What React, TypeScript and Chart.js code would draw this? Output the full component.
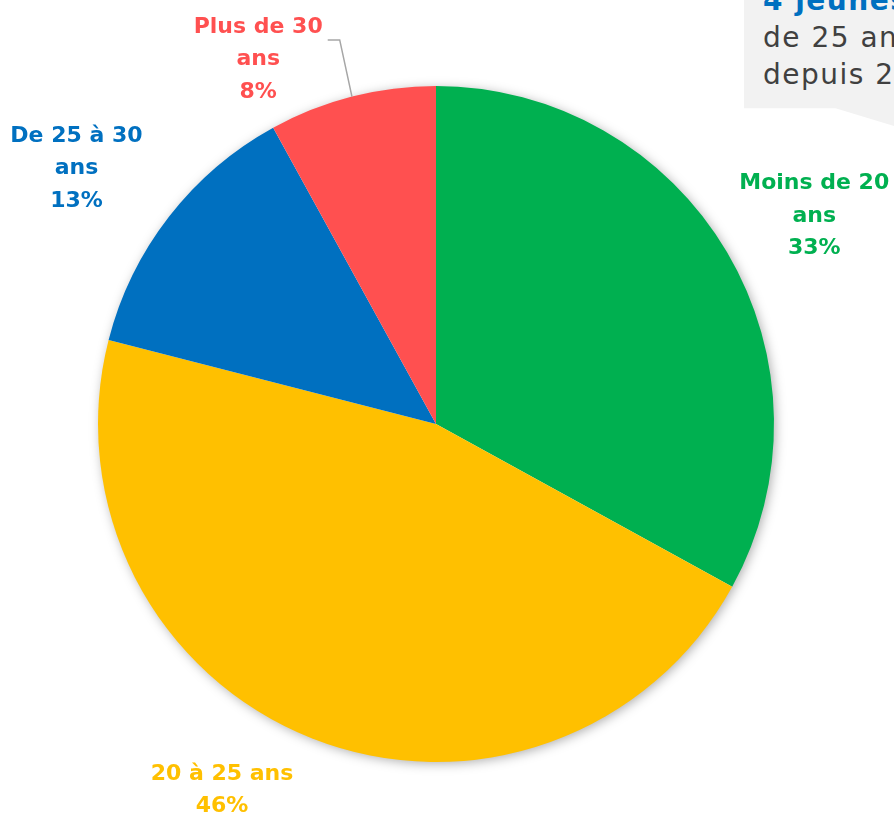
import React, { useEffect, useRef } from "react";
import { Chart, registerables } from "chart.js";

Chart.register(...registerables);

const categories = ["Moins de 20 ans", "20 à 25 ans", "De 25 à 30 ans", "Plus de 30 ans"];
const labelLines = [["Moins de 20", "ans"], ["20 à 25 ans"], ["De 25 à 30", "ans"], ["Plus de 30", "ans"]];
const shares = [33, 46, 13, 8];
const colors = ["#00B050", "#FFC000", "#0070C0", "#FF5050"];

// label placement relative to each slice (angle offset in degrees, radius factor)
const labelPlacement = [
  { da: 1.8, rf: 1.277, leader: false },
  { da: 8.7, rf: 1.255, leader: false },
  { da: -2.4, rf: 1.305, leader: false },
  { da: -11.6, rf: 1.2, leader: true },
];

const labelPlugin = {
  id: "sliceLabels",
  beforeDatasetsDraw(chart: any) {
    const ctx = chart.ctx;
    const meta = chart.getDatasetMeta(0);
    const arc = meta.data[0];
    if (!arc) return;
    const p = arc.getProps(["x", "y", "outerRadius"], true);
    ctx.save();
    ctx.shadowColor = "rgba(0,0,0,0.35)";
    ctx.shadowBlur = 12;
    ctx.shadowOffsetX = 2;
    ctx.shadowOffsetY = 2;
    ctx.fillStyle = "#ffffff";
    ctx.beginPath();
    ctx.arc(p.x, p.y, p.outerRadius - 1, 0, Math.PI * 2);
    ctx.fill();
    ctx.restore();
  },
  afterDatasetsDraw(chart: any) {
    const ctx = chart.ctx;
    const meta = chart.getDatasetMeta(0);
    const lh = 32.5;
    ctx.save();
    ctx.font = "bold 22px 'DejaVu Sans', sans-serif";
    ctx.textAlign = "center";
    ctx.textBaseline = "middle";
    meta.data.forEach((arc: any, i: number) => {
      const p = arc.getProps(["x", "y", "startAngle", "endAngle", "outerRadius"], true);
      const mid = (p.startAngle + p.endAngle) / 2;
      const pl = labelPlacement[i];
      const a = mid + (pl.da * Math.PI) / 180;
      const cx = p.x + Math.cos(a) * p.outerRadius * pl.rf;
      const cy = p.y + Math.sin(a) * p.outerRadius * pl.rf;
      const lines = [...labelLines[i], shares[i] + "%"];
      const top = cy - ((lines.length - 1) * lh) / 2;
      ctx.fillStyle = colors[i];
      lines.forEach((t, k) => ctx.fillText(t, cx, top + k * lh));
      if (pl.leader) {
        const w = ctx.measureText(lines[0]).width;
        const sx = cx + w / 2 + 5;
        const sy = top + 13;
        const ex = p.x + Math.cos(mid) * p.outerRadius;
        const ey = p.y + Math.sin(mid) * p.outerRadius;
        ctx.strokeStyle = "#A6A6A6";
        ctx.lineWidth = 1.5;
        ctx.beginPath();
        ctx.moveTo(sx, sy);
        ctx.lineTo(sx + 12, sy);
        ctx.lineTo(ex, ey);
        ctx.stroke();
      }
    });
    ctx.restore();
  },
};

export default function App() {
  const ref = useRef<HTMLCanvasElement>(null);
  useEffect(() => {
    if (!ref.current) return;
    const chart = new Chart(ref.current, {
      type: "pie",
      data: {
        labels: categories,
        datasets: [
          {
            data: shares,
            backgroundColor: colors,
            borderWidth: 0,
          },
        ],
      },
      options: {
        responsive: false,
        animation: false,
        layout: { padding: { left: 98, right: 120, top: 86, bottom: 54 } },
        plugins: { legend: { display: false }, tooltip: { enabled: false } },
      },
      plugins: [labelPlugin],
    });
    return () => chart.destroy();
  }, []);

  return (
    <div
      style={{
        position: "absolute",
        left: 0,
        top: 0,
        width: 894,
        height: 816,
        overflow: "hidden",
        background: "#ffffff",
      }}
    >
      <div
        style={{
          position: "absolute",
          left: 744,
          top: 0,
          width: 150,
          height: 126,
          background: "#F2F2F2",
          clipPath: "polygon(0 0, 100% 0, 100% 100%, 61% 86%, 0 86%)",
        }}
      />
      <div
        style={{
          position: "absolute",
          left: 763,
          top: -18,
          whiteSpace: "nowrap",
          fontFamily: "'DejaVu Sans', sans-serif",
          fontSize: 28,
          letterSpacing: 1.5,
          lineHeight: "37px",
          color: "#404040",
        }}
      >
        <div style={{ color: "#0070C0", fontWeight: "bold" }}>4 jeunes</div>
        <div>de 25 ans</div>
        <div>depuis 2017</div>
      </div>
      <canvas ref={ref} width={894} height={816} style={{ position: "absolute", left: 0, top: 0 }} />
    </div>
  );
}
